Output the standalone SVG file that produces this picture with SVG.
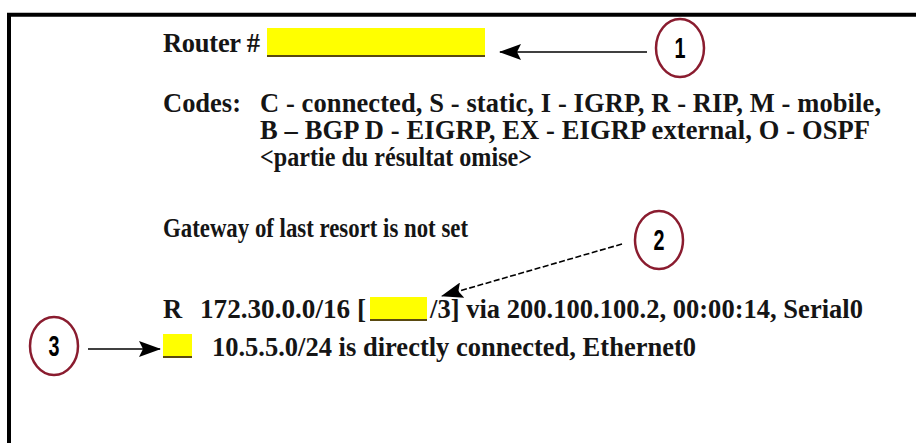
<svg xmlns="http://www.w3.org/2000/svg" width="916" height="443" viewBox="0 0 916 443">
  <defs>
    <marker id="arrow" viewBox="0 0 22 16" refX="21" refY="8" markerWidth="22" markerHeight="16" markerUnits="userSpaceOnUse" orient="auto">
      <path d="M0,0 L22,8 L0,16 L4,8 Z" fill="#000"/>
    </marker>
    <style>
      .t { font-family: "Liberation Serif", "DejaVu Serif", "Times New Roman", serif; font-weight: bold; font-size: 26.5px; fill: #151515; }
      .num { font-family: "Liberation Sans", Arial, sans-serif; font-weight: bold; font-size: 29px; fill: #000; text-anchor: middle; }
      .badge { fill: #fff; stroke: #8a1c2f; stroke-width: 2.5; }
      .blank { fill: #ffff00; }
      .uline { stroke: #5a4a10; stroke-width: 2; }
      .conn { stroke: #000; stroke-width: 1.6; fill: none; marker-end: url(#arrow); }
      .frame { stroke: #000; stroke-width: 4; fill: none; }
    </style>
  </defs>
  <rect width="916" height="443" fill="#fff"/>

  <!-- frame: top and left edges only -->
  <path class="frame" d="M9,443 V14.7 H916"/>

  <g font-family="'Liberation Serif', 'DejaVu Serif', serif">
    <!-- prompt line with blank for the hostname -->
    <g id="router-line">
      <text class="t" x="163" y="52" textLength="97" lengthAdjust="spacing">Router #</text>
      <rect class="blank" x="267" y="28" width="218" height="29"/>
      <line class="uline" x1="267" y1="56" x2="485" y2="56"/>
    </g>

    <!-- route code legend -->
    <g id="codes">
      <text class="t" x="163" y="112" textLength="78" lengthAdjust="spacing">Codes:</text>
      <text class="t" x="260" y="112" textLength="621" lengthAdjust="spacing">C - connected, S - static, I - IGRP, R - RIP, M - mobile,</text>
      <text class="t" x="260" y="139" textLength="610" lengthAdjust="spacing">B – BGP D - EIGRP, EX - EIGRP external, O - OSPF</text>
      <text class="t" x="260" y="166" textLength="272" lengthAdjust="spacingAndGlyphs">&lt;partie du résultat omise&gt;</text>
    </g>

    <g id="gateway">
      <text class="t" x="163" y="237" textLength="305" lengthAdjust="spacingAndGlyphs">Gateway of last resort is not set</text>
    </g>

    <!-- RIP route with blank administrative distance -->
    <g id="rip-route">
      <text class="t" x="163" y="318">R</text>
      <text class="t" x="200" y="318" textLength="166" lengthAdjust="spacingAndGlyphs">172.30.0.0/16 [</text>
      <rect class="blank" x="370" y="297" width="57" height="24"/>
      <line class="uline" x1="370" y1="320" x2="427" y2="320"/>
      <text class="t" x="430" y="318" textLength="433" lengthAdjust="spacing">/3] via 200.100.100.2, 00:00:14, Serial0</text>
    </g>

    <!-- connected route with blank code -->
    <g id="connected-route">
      <rect class="blank" x="163" y="334" width="29" height="24"/>
      <line class="uline" x1="163" y1="357" x2="192" y2="357"/>
      <text class="t" x="212" y="356" textLength="484" lengthAdjust="spacing">10.5.5.0/24 is directly connected, Ethernet0</text>
    </g>
  </g>

  <!-- numbered callouts -->
  <g id="callout-1">
    <ellipse class="badge" cx="680" cy="48" rx="24" ry="29"/>
    <text class="num" x="680" y="58" textLength="11" lengthAdjust="spacingAndGlyphs">1</text>
  </g>
  <g id="callout-2">
    <ellipse class="badge" cx="659" cy="240" rx="24" ry="29"/>
    <text class="num" x="659" y="250" textLength="11" lengthAdjust="spacingAndGlyphs">2</text>
  </g>
  <g id="callout-3">
    <ellipse class="badge" cx="54" cy="346" rx="24" ry="29"/>
    <text class="num" x="54" y="356" textLength="11" lengthAdjust="spacingAndGlyphs">3</text>
  </g>

  <g id="connectors">
    <line class="conn" x1="647" y1="52" x2="500" y2="52"/>
    <line class="conn" x1="622" y1="244" x2="442" y2="296" stroke-dasharray="6,2.5"/>
    <line class="conn" x1="88" y1="349" x2="160" y2="349"/>
  </g>
</svg>
